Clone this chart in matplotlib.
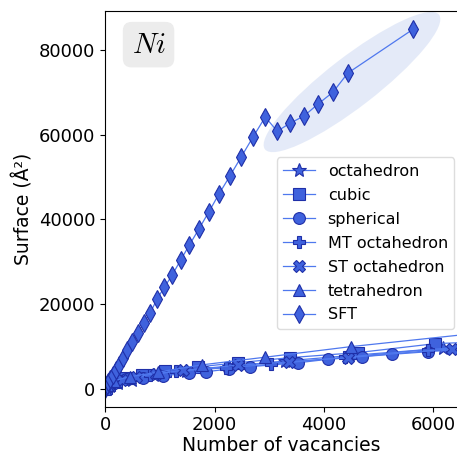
import matplotlib
matplotlib.use('Agg')
from matplotlib import pyplot as plt
from matplotlib import transforms
from matplotlib.patches import Ellipse

plt.rcParams['mathtext.fontset'] = 'cm'

# данные (оценка по картинке)
oct_n = [19, 85, 231, 489, 891, 1469, 2255, 3281, 4579, 6181, 8400]
oct_s = [250, 700, 1400, 2200, 3200, 4200, 5300, 6600, 8000, 9600, 11200]

cub_n = [14, 63, 172, 365, 666, 1099, 1688, 2436, 3382, 4631, 6040, 7813]
cub_s = [300, 900, 1650, 2500, 3300, 4300, 5200, 6200, 7400, 8600, 10700, 11600]

sph_n = [13, 79, 201, 381, 683, 1055, 1527, 1848, 2255, 2655, 3533, 4067, 4697, 5242, 5909, 7400]
sph_s = [400, 1250, 1900, 2350, 2550, 3150, 3700, 4080, 4700, 5260, 6200, 7000, 7620, 8180, 8800, 10200]

mt_n = [38, 116, 260, 490, 826, 1288, 2212, 3030, 4394, 5909, 7600]
mt_s = [600, 1300, 1900, 2600, 3300, 4200, 5000, 5850, 7500, 9300, 10700]

st_n = [55, 147, 309, 561, 923, 1415, 2424, 3352, 4442, 6350, 8000]
st_s = [700, 1400, 2200, 2900, 3600, 4400, 5600, 6400, 7400, 9500, 10800]

tet_n = [1, 35, 165, 455, 969, 1771, 2925, 4495, 6545]
tet_s = [80, 1000, 2000, 2900, 4000, 5700, 7500, 10000, 12800]

sft_n = [1, 10, 28, 55, 91, 136, 190, 253, 325, 406, 496, 595, 703, 820, 946, 1081,
         1225, 1378, 1540, 1711, 1891, 2080, 2278, 2485, 2701, 2926,
         3145, 3382, 3636, 3891, 4164, 4436, 5636]
sft_s = [100, 600, 1000, 1600, 2300, 3300, 4400, 5700, 7300, 9100, 11000, 13200,
         15600, 17900, 21200, 24000, 26900, 30400, 34000, 37700, 41700, 46000,
         50200, 54700, 59400, 64150, 60800, 62700, 64400, 67200, 70000, 74500, 84900]

series = [
    ('octahedron', oct_n, oct_s, '*', 10),
    ('cubic', cub_n, cub_s, 's', 8.5),
    ('spherical', sph_n, sph_s, 'o', 8.5),
    ('MT octahedron', mt_n, mt_s, 'P', 8.5),
    ('ST octahedron', st_n, st_s, 'X', 8.5),
    ('tetrahedron', tet_n, tet_s, '^', 8.5),
    ('SFT', sft_n, sft_s, 'd', 9),
]

fig = plt.figure(figsize=(4.57, 4.55), dpi=100)
ax = fig.add_axes([0.2304, 0.1062, 1 - 0.2304, 0.9758 - 0.1062])

for name, n, s, m, ms in series:
    ax.plot(n, s, color='#4f78ee', lw=0.9, marker=m, markersize=ms,
            markerfacecolor='#3f62dd', markeredgecolor='#1f2fa8',
            markeredgewidth=0.8, label=name)

# эллипс вокруг SFT
trans = fig.dpi_scale_trans + transforms.ScaledTranslation(4513, 72400, ax.transData)
ell = Ellipse((0, 0), width=2.2, height=0.5, angle=37.7, transform=trans,
              facecolor='#d3ddf4', alpha=0.6, edgecolor='none', zorder=0)
ax.add_patch(ell)

ax.set_xlim(0, 6434)
ax.set_ylim(-4170, 89150)
ax.set_xticks([0, 2000, 4000, 6000])
ax.set_yticks([0, 20000, 40000, 60000, 80000])
ax.spines['right'].set_visible(False)
ax.tick_params(labelsize=13)
ax.set_xlabel('Number of vacancies', fontsize=13.5, labelpad=1)
ax.set_ylabel('Surface (Å²)', fontsize=13.5)

ax.text(0.123, 0.915, '$Ni$', transform=ax.transAxes, fontsize=21,
        ha='center', va='center',
        bbox=dict(boxstyle='round,pad=0.3', facecolor='#ececec', edgecolor='none'))

ax.legend(loc='upper left', bbox_to_anchor=(0.487, 0.630), borderaxespad=0,
          fontsize=11.5, labelspacing=0.56, handlelength=2.0, framealpha=1,
          edgecolor='#dddddd', fancybox=True)

fig.savefig('out.png', dpi=100)
